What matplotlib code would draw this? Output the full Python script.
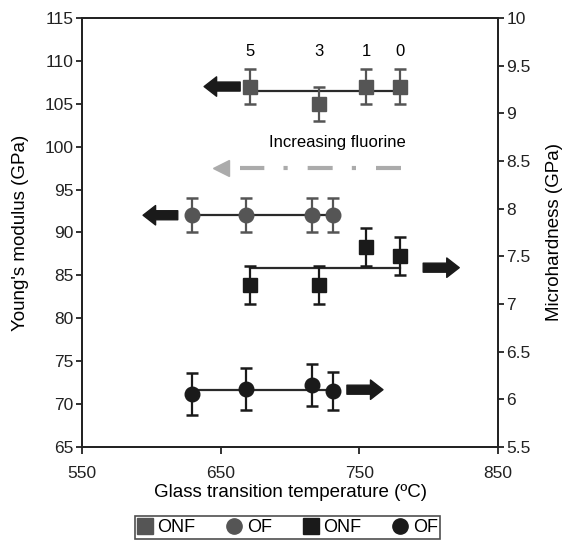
import numpy as np
import matplotlib
matplotlib.use("Agg")
import matplotlib.pyplot as plt
from matplotlib.lines import Line2D

plt.rcParams['font.family'] = ['Liberation Sans', 'DejaVu Sans']

# glass transition temperatures (C)
t_onf = [671, 721, 755, 779]
t_of = [629, 668, 716, 731]
fluorine_labels = ['5', '3', '1', '0']

# Young's modulus (GPa)
e_onf = [107, 105, 107, 107]
e_onf_err = [2, 2, 2, 2]
e_of = [92, 92, 92, 92]
e_of_err = [2, 2, 2, 2]

# Microhardness (GPa)
h_onf = [7.2, 7.2, 7.6, 7.5]
h_onf_err = [0.2, 0.2, 0.2, 0.2]
h_of = [6.05, 6.11, 6.15, 6.09]
h_of_err = [0.22, 0.22, 0.22, 0.2]

grey = '#555555'
black = '#1a1a1a'
line_c = '#2a2a2a'

fig = plt.figure(figsize=(5.66, 5.43), dpi=100)
ax = fig.add_axes([0.145, 0.177, 0.735, 0.790])
ax2 = ax.twinx()

eb = dict(ls='none', elinewidth=1.6, capsize=4, capthick=1.8, ecolor=grey, zorder=3)

# mean lines
ax.plot([t_onf[0], t_onf[-1]], [np.mean(e_onf)] * 2, color=line_c, lw=1.6, zorder=2)
ax.plot([t_of[0], t_of[-1]], [np.mean(e_of)] * 2, color=line_c, lw=1.6, zorder=2)
ax2.plot([t_onf[0], t_onf[-1]], [np.mean(h_onf)] * 2, color=line_c, lw=1.6, zorder=2)
ax2.plot([t_of[0], t_of[-1]], [np.mean(h_of)] * 2, color=line_c, lw=1.6, zorder=2)

ax.errorbar(t_onf, e_onf, yerr=e_onf_err, marker='s', ms=10.5, mfc=grey, mec=grey, **eb)
ax.errorbar(t_of, e_of, yerr=e_of_err, marker='o', ms=10.5, mfc=grey, mec=grey, **eb)
eb['ecolor'] = black
ax2.errorbar(t_onf, h_onf, yerr=h_onf_err, marker='s', ms=10.5, mfc=black, mec=black, **eb)
ax2.errorbar(t_of, h_of, yerr=h_of_err, marker='o', ms=10.5, mfc=black, mec=black, **eb)

for t, lab in zip(t_onf, fluorine_labels):
    ax.text(t, 110.2, lab, ha='center', va='bottom', fontsize=12)

# direction arrows
arrow = dict(arrowstyle='simple,head_length=0.9,head_width=1.4,tail_width=0.65',
             color=black, shrinkA=0, shrinkB=0, mutation_scale=10)
ax.annotate('', xy=(638, 107), xytext=(664, 107), arrowprops=arrow)
ax.annotate('', xy=(594, 92), xytext=(619, 92), arrowprops=arrow)
ax2.annotate('', xy=(822, 7.38), xytext=(796, 7.38), arrowprops=arrow)
ax2.annotate('', xy=(767, 6.1), xytext=(741, 6.1), arrowprops=arrow)

# increasing fluorine arrow
ax.plot([780, 664], [97.5, 97.5], color='#ababab', lw=3, solid_capstyle='butt',
        dash_capstyle='butt', linestyle=(0, (6, 4.8, 1, 4.6)), zorder=2)
ax.plot([650], [97.5], marker='<', ms=12, color='#ababab', mec='#ababab', zorder=2)
ax.text(734, 99.6, 'Increasing fluorine', ha='center', va='bottom', fontsize=12)

ax.set_xlim(550, 850)
ax.set_ylim(65, 115)
ax2.set_ylim(5.5, 10)
ax.set_xticks([550, 650, 750, 850])
ax.set_yticks(np.arange(65, 116, 5))
h_ticks = np.arange(5.5, 10.01, 0.5)
ax2.set_yticks(h_ticks)
ax2.set_yticklabels(['%g' % v for v in h_ticks])

for a in (ax, ax2):
    for s in a.spines.values():
        s.set_linewidth(1.3)
        s.set_color('#222222')
    a.tick_params(direction='out', length=4, width=1.3, labelsize=12.5, colors='#222222', pad=2)
ax.tick_params(axis='x', length=5, pad=9)

ax.set_xlabel('Glass transition temperature (ºC)', fontsize=13.5, labelpad=2)
ax.set_ylabel("Young's modulus (GPa)", fontsize=13.5)
ax2.set_ylabel('Microhardness (GPa)', fontsize=13.5)
ax.yaxis.set_label_coords(-0.128, 0.5)
ax2.yaxis.set_label_coords(1.116, 0.5)

handles = [
    Line2D([], [], ls='none', marker='s', ms=11, color=grey),
    Line2D([], [], ls='none', marker='o', ms=11, color=grey),
    Line2D([], [], ls='none', marker='s', ms=11, color=black),
    Line2D([], [], ls='none', marker='o', ms=11, color=black),
]
leg = fig.legend(handles, ['ONF', 'OF', 'ONF', 'OF'], ncol=4, loc='center',
                 bbox_to_anchor=(0.508, 0.0285), fontsize=13, frameon=True, fancybox=False,
                 edgecolor='#222222', handlelength=0.8, handletextpad=0.3, columnspacing=1.75,
                 borderpad=0.15, borderaxespad=0)
leg.get_frame().set_linewidth(1.2)

fig.savefig('out.png', dpi=100)
